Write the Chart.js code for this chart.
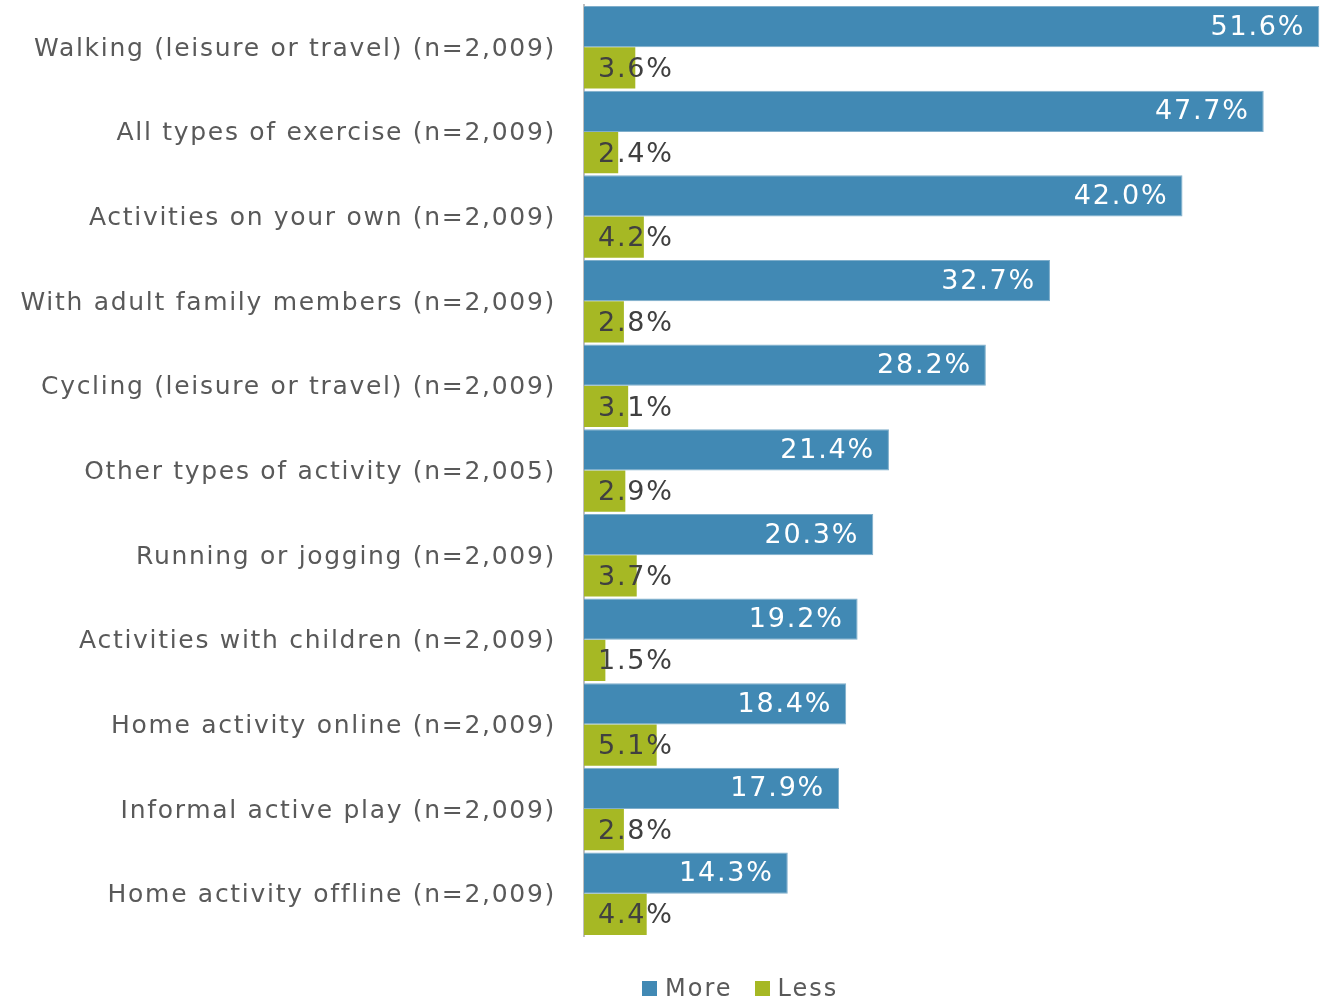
<!DOCTYPE html>
<html>
<head>
<meta charset="utf-8">
<script src="https://cdn.jsdelivr.net/npm/chart.js@4"></script>
<style>
  html, body { margin: 0; padding: 0; background: #fff; }
  #wrap { position: relative; width: 1332px; height: 1002px; }
  #legend {
    position: absolute; top: 974px; left: 642px;
    display: flex; align-items: center; gap: 22px;
    font-family: "DejaVu Sans", Verdana, sans-serif; font-size: 24px; letter-spacing: 2px; color: #595959;
  }
  #legend span.box { display: inline-block; width: 15px; height: 15px; margin-right: 8px; }
  #legend .item { display: flex; align-items: center; }
</style>
</head>
<body>
<div id="wrap">
  <canvas id="chartCanvas" width="1332" height="1002"></canvas>
  <div id="legend"></div>
</div>
<script>
const categories = [
  'Walking (leisure or travel) (n=2,009)',
  'All types of exercise (n=2,009)',
  'Activities on your own (n=2,009)',
  'With adult family members (n=2,009)',
  'Cycling (leisure or travel) (n=2,009)',
  'Other types of activity (n=2,005)',
  'Running or jogging (n=2,009)',
  'Activities with children (n=2,009)',
  'Home activity online (n=2,009)',
  'Informal active play (n=2,009)',
  'Home activity offline (n=2,009)'
];
const moreValues = [51.6, 47.7, 42.0, 32.7, 28.2, 21.4, 20.3, 19.2, 18.4, 17.9, 14.3];
const lessValues = [3.6, 2.4, 4.2, 2.8, 3.1, 2.9, 3.7, 1.5, 5.1, 2.8, 4.4];
const seriesNames = ['More', 'Less'];
const seriesColors = ['#4189B4', '#A6B824'];

const FONT = '"DejaVu Sans", Verdana, sans-serif';

// wide letter spacing like the original (set for ticks, reset after)
const spacing = {
  id: 'spacing',
  beforeDraw(chart) { chart.ctx.letterSpacing = '1.7px'; },
  afterDraw(chart) { chart.ctx.letterSpacing = '0px'; }
};

// draws the value labels: inside-end for "More", fixed left offset for "Less"
const valueLabels = {
  id: 'valueLabels',
  afterDatasetsDraw(chart) {
    const ctx = chart.ctx;
    ctx.save();
    ctx.letterSpacing = '1.8px';
    ctx.font = '27px ' + FONT;
    ctx.textBaseline = 'middle';
    chart.data.datasets.forEach((ds, di) => {
      const meta = chart.getDatasetMeta(di);
      meta.data.forEach((bar, i) => {
        const txt = ds.data[i].toFixed(1) + '%';
        if (di === 0) {
          ctx.fillStyle = '#ffffff';
          ctx.textAlign = 'right';
          ctx.fillText(txt, bar.x - 14, bar.y + 1);
        } else {
          ctx.fillStyle = '#404040';
          ctx.textAlign = 'left';
          ctx.fillText(txt, bar.base + 14, bar.y + 2);
        }
      });
    });
    ctx.restore();
  }
};

const chart = new Chart(document.getElementById('chartCanvas'), {
  type: 'bar',
  data: {
    labels: categories,
    datasets: [
      { label: seriesNames[0], data: moreValues, backgroundColor: seriesColors[0], borderColor: '#7FAECB', borderWidth: 1, borderSkipped: 'start' },
      { label: seriesNames[1], data: lessValues, backgroundColor: seriesColors[1], borderWidth: 0 }
    ]
  },
  options: {
    indexAxis: 'y',
    responsive: false,
    animation: false,
    layout: { padding: { top: 5, right: 7, bottom: 66, left: 0 } },
    plugins: {
      legend: { display: false },
      tooltip: { enabled: false }
    },
    scales: {
      x: {
        display: false,
        min: 0,
        max: 52
      },
      y: {
        grid: { display: false, drawTicks: false },
        border: { display: true, color: '#BFBFBF', width: 2 },
        ticks: { color: '#595959', font: { family: FONT, size: 25 }, padding: 28, labelOffset: 2 },
        afterFit(scale) {
          scale.width = 584;
          scale.paddingTop = 0;
          scale.paddingBottom = 0;
        }
      }
    },
    datasets: {
      bar: { barPercentage: 1, categoryPercentage: 0.975 }
    }
  },
  plugins: [spacing, valueLabels]
});

// HTML legend
const legend = document.getElementById('legend');
seriesNames.forEach((name, i) => {
  const item = document.createElement('div');
  item.className = 'item';
  item.innerHTML = '<span class="box" style="background:' + seriesColors[i] + '"></span>' + name;
  legend.appendChild(item);
});
</script>
</body>
</html>
